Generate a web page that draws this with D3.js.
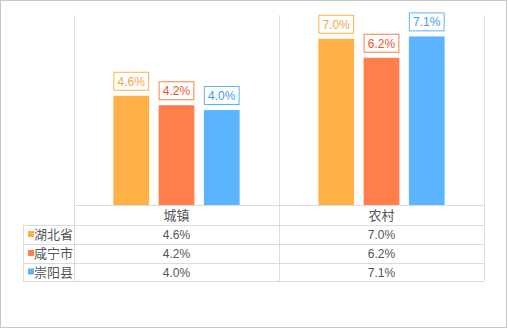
<!DOCTYPE html>
<html>
<head>
<meta charset="utf-8">
<script src="https://cdn.jsdelivr.net/npm/d3@7/dist/d3.min.js"></script>
<style>
  html, body { margin: 0; padding: 0; background: #fff; }
  svg { display: block; }
  text { font-family: "Liberation Sans", Arial, "Noto Sans CJK SC", sans-serif; }
</style>
</head>
<body>
<svg id="chart" width="508" height="334"></svg>
<script>
// Growth rates (%) by area type
const categories = ["城镇", "农村"];
const seriesNames = ["湖北省", "咸宁市", "崇阳县"];
const hubei = [4.6, 7.0];
const xianning = [4.2, 6.2];
const chongyang = [4.0, 7.1];
const seriesValues = [hubei, xianning, chongyang];
const colors = ["#FFB046", "#FF7E4A", "#5CB4FF"];
const labelColors = ["#F8A53A", "#F5502A", "#3F9BF5"];
const fmt = v => v.toFixed(1) + "%";

const svg = d3.select("#chart");
const plot = { left: 74, right: 484, top: 15, bottom: 205 };
const tableLeft = 23;
const rowTops = [205, 225, 244, 263, 281];

// outer frame
svg.append("rect")
  .attr("x", 0.5).attr("y", 0.5).attr("width", 506).attr("height", 327)
  .attr("fill", "#fff").attr("stroke", "#c8c8c8");

const x = d3.scaleBand().domain(categories).range([plot.left, plot.right]);
const xs = d3.scaleBand().domain(seriesNames).range([0, x.bandwidth()])
  .paddingInner(0.21).paddingOuter(0.87);
const y = d3.scaleLinear().domain([0, 8]).range([plot.bottom, plot.top]);

// category separators in the plot area
const sepX = [plot.left, ...categories.map(c => x(c) + x.bandwidth())];
svg.append("g").selectAll("line").data(sepX).join("line")
  .attr("x1", d => Math.round(d) + 0.5).attr("x2", d => Math.round(d) + 0.5)
  .attr("y1", plot.top).attr("y2", plot.bottom)
  .attr("stroke", "#e0e0e0");

// bars
const flat = [];
seriesNames.forEach((s, i) => categories.forEach((c, j) => flat.push({ s, i, c, v: seriesValues[i][j] })));

svg.append("g").selectAll("rect").data(flat).join("rect")
  .attr("x", d => x(d.c) + xs(d.s))
  .attr("y", d => y(d.v))
  .attr("width", xs.bandwidth())
  .attr("height", d => y(0) - y(d.v))
  .attr("fill", d => colors[d.i]);

// value labels in framed boxes
const lab = svg.append("g").selectAll("g").data(flat).join("g")
  .attr("transform", d => `translate(${x(d.c) + xs(d.s) + xs.bandwidth() / 2},${y(d.v) - 5})`);
lab.append("rect")
  .attr("x", -xs.bandwidth() / 2 + 0.5).attr("y", -18.5)
  .attr("width", xs.bandwidth() - 1).attr("height", 18)
  .attr("fill", "#fff").attr("stroke", d => colors[d.i]);
lab.append("text")
  .attr("text-anchor", "middle").attr("y", -5)
  .attr("font-size", 12).attr("fill", d => labelColors[d.i])
  .text(d => fmt(d.v));

// data table
const tbl = svg.append("g");
const lineColor = "#dcdcdc";
// horizontal lines
rowTops.forEach((ry, k) => {
  tbl.append("line")
    .attr("x1", k === 0 ? plot.left : tableLeft).attr("x2", plot.right)
    .attr("y1", ry + 0.5).attr("y2", ry + 0.5)
    .attr("stroke", lineColor);
});
// vertical lines
[tableLeft, ...sepX].forEach((vx, k) => {
  tbl.append("line")
    .attr("x1", Math.round(vx) + 0.5).attr("x2", Math.round(vx) + 0.5)
    .attr("y1", k === 0 ? rowTops[1] : rowTops[0]).attr("y2", rowTops[rowTops.length - 1])
    .attr("stroke", lineColor);
});
// header
tbl.selectAll("text.hdr").data(categories).join("text")
  .attr("class", "hdr")
  .attr("x", d => x(d) + x.bandwidth() / 2)
  .attr("y", (rowTops[0] + rowTops[1]) / 2 + 4.5)
  .attr("text-anchor", "middle").attr("font-size", 13).attr("fill", "#555")
  .style("font-family", "'Noto Sans CJK SC', sans-serif")
  .text(d => d);
// rows
seriesNames.forEach((s, i) => {
  const cy = (rowTops[i + 1] + rowTops[i + 2]) / 2;
  tbl.append("rect")
    .attr("x", 28).attr("y", cy - 3.5).attr("width", 6).attr("height", 6)
    .attr("fill", colors[i]);
  tbl.append("text")
    .attr("x", 34).attr("y", cy + 4.5)
    .attr("font-size", 13).attr("fill", "#555")
    .style("font-family", "'Noto Sans CJK SC', sans-serif")
    .text(s);
  categories.forEach((c, j) => {
    tbl.append("text")
      .attr("x", x(c) + x.bandwidth() / 2).attr("y", cy + 4.5)
      .attr("text-anchor", "middle").attr("font-size", 12).attr("fill", "#555")
      .text(fmt(seriesValues[i][j]));
  });
});
</script>
</body>
</html>
